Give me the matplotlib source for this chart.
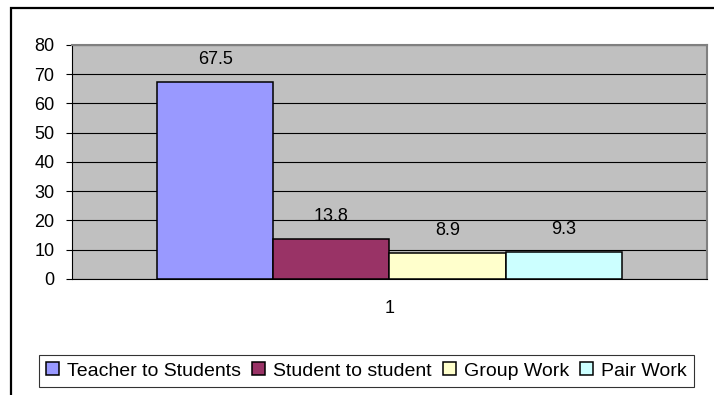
# bar chart of classroom interaction types (Excel-style)
import numpy as np
import matplotlib.pyplot as plt
from matplotlib.patches import Rectangle

plt.rcParams['font.family'] = ['Liberation Sans', 'DejaVu Sans']

# data
categories = ['1']
series_names = ['Teacher to Students', 'Student to student', 'Group Work', 'Pair Work']
values = [67.5, 13.8, 8.9, 9.3]
colors = ['#9999FF', '#993366', '#FFFFCC', '#CCFFFF']
y_ticks = [0, 10, 20, 30, 40, 50, 60, 70, 80]

fig = plt.figure(figsize=(7.14, 3.95), dpi=100)
ax = fig.add_axes([0.1008, 0.2937, 0.8894, 0.5924])
ax.set_facecolor('#C0C0C0')

# outer chart border (only left and top visible in the crop)
fig.patches.append(Rectangle((11.5 / 714, -0.1), 1.2, 1.1 - 7.5 / 395,
                             transform=fig.transFigure, fill=False,
                             edgecolor='black', linewidth=1.6, zorder=0))

w = 0.1827
x0 = 1
for i, (name, v, c) in enumerate(zip(series_names, values, colors)):
    xpos = x0 + (i - 1.5) * w
    ax.bar(xpos, v, width=w, color=c, edgecolor='black', linewidth=1.1,
           label=name, zorder=3)
    ax.annotate(f'{v}', (xpos, v), xytext=(0, 18), textcoords='offset pixels',
                ha='center', va='baseline', fontsize=13, zorder=4)

ax.set_xlim(0.5, 1.5)
ax.set_ylim(0, 80)
ax.set_yticks(y_ticks)
ax.set_xticks([1])
ax.set_xticklabels(categories)
ax.yaxis.grid(True, color='black', linewidth=0.8, zorder=1)
ax.set_axisbelow(True)

ax.tick_params(axis='y', direction='out', length=4.5, width=0.8, labelsize=13, pad=8)
ax.tick_params(axis='x', length=0, labelsize=13, pad=15)

for s in ['left', 'bottom']:
    ax.spines[s].set_color('black')
    ax.spines[s].set_linewidth(0.8)
for s in ['top', 'right']:
    ax.spines[s].set_color('#808080')
    ax.spines[s].set_linewidth(1.5)

leg = fig.legend(loc='center', bbox_to_anchor=(0.5133, 0.0608), ncol=4,
                 fontsize=14, frameon=True, fancybox=False, edgecolor='black',
                 handlelength=0.65, handleheight=0.65, handletextpad=0.4,
                 columnspacing=0.6, borderpad=0.4)
leg.get_frame().set_linewidth(0.8)

plt.savefig('out.png', dpi=100)
